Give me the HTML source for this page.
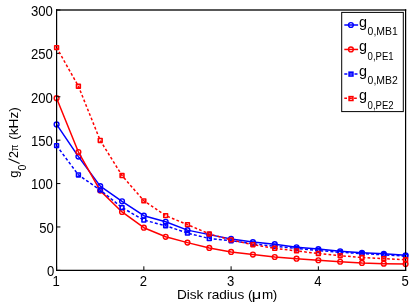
<!DOCTYPE html>
<html><head><meta charset="utf-8"><title>chart</title>
<style>
html,body{margin:0;padding:0;background:#fff;}
svg{display:block;will-change:transform;font-family:"Liberation Sans",sans-serif;}
text{fill:#000;}
</style></head><body>
<svg width="415" height="308" viewBox="0 0 415 308">
<rect x="0" y="0" width="415" height="308" fill="#fff"/>
<g stroke-linejoin="round">
<polyline points="56.60,124.44 78.41,156.58 100.22,186.12 122.04,201.28 143.85,215.66 165.66,221.81 187.47,230.13 209.29,234.63 231.10,238.96 252.91,242.08 274.73,244.16 296.54,247.28 318.35,249.10 340.16,251.26 361.98,252.74 383.79,253.86 405.60,255.34" fill="none" stroke="#0000ff" stroke-width="1.5"/>
<circle cx="56.60" cy="124.44" r="2.4" fill="none" stroke="#0000ff" stroke-width="1.4"/>
<circle cx="78.41" cy="156.58" r="2.4" fill="none" stroke="#0000ff" stroke-width="1.4"/>
<circle cx="100.22" cy="186.12" r="2.4" fill="none" stroke="#0000ff" stroke-width="1.4"/>
<circle cx="122.04" cy="201.28" r="2.4" fill="none" stroke="#0000ff" stroke-width="1.4"/>
<circle cx="143.85" cy="215.66" r="2.4" fill="none" stroke="#0000ff" stroke-width="1.4"/>
<circle cx="165.66" cy="221.81" r="2.4" fill="none" stroke="#0000ff" stroke-width="1.4"/>
<circle cx="187.47" cy="230.13" r="2.4" fill="none" stroke="#0000ff" stroke-width="1.4"/>
<circle cx="209.29" cy="234.63" r="2.4" fill="none" stroke="#0000ff" stroke-width="1.4"/>
<circle cx="231.10" cy="238.96" r="2.4" fill="none" stroke="#0000ff" stroke-width="1.4"/>
<circle cx="252.91" cy="242.08" r="2.4" fill="none" stroke="#0000ff" stroke-width="1.4"/>
<circle cx="274.73" cy="244.16" r="2.4" fill="none" stroke="#0000ff" stroke-width="1.4"/>
<circle cx="296.54" cy="247.28" r="2.4" fill="none" stroke="#0000ff" stroke-width="1.4"/>
<circle cx="318.35" cy="249.10" r="2.4" fill="none" stroke="#0000ff" stroke-width="1.4"/>
<circle cx="340.16" cy="251.26" r="2.4" fill="none" stroke="#0000ff" stroke-width="1.4"/>
<circle cx="361.98" cy="252.74" r="2.4" fill="none" stroke="#0000ff" stroke-width="1.4"/>
<circle cx="383.79" cy="253.86" r="2.4" fill="none" stroke="#0000ff" stroke-width="1.4"/>
<circle cx="405.60" cy="255.34" r="2.4" fill="none" stroke="#0000ff" stroke-width="1.4"/>
<polyline points="56.60,98.19 78.41,152.07 100.22,190.62 122.04,211.93 143.85,227.70 165.66,236.80 187.47,242.60 209.29,247.97 231.10,251.96 252.91,254.56 274.73,256.98 296.54,258.71 318.35,260.27 340.16,261.75 361.98,262.96 383.79,263.65 405.60,264.09" fill="none" stroke="#ff0000" stroke-width="1.5"/>
<circle cx="56.60" cy="98.19" r="2.4" fill="none" stroke="#ff0000" stroke-width="1.4"/>
<circle cx="78.41" cy="152.07" r="2.4" fill="none" stroke="#ff0000" stroke-width="1.4"/>
<circle cx="100.22" cy="190.62" r="2.4" fill="none" stroke="#ff0000" stroke-width="1.4"/>
<circle cx="122.04" cy="211.93" r="2.4" fill="none" stroke="#ff0000" stroke-width="1.4"/>
<circle cx="143.85" cy="227.70" r="2.4" fill="none" stroke="#ff0000" stroke-width="1.4"/>
<circle cx="165.66" cy="236.80" r="2.4" fill="none" stroke="#ff0000" stroke-width="1.4"/>
<circle cx="187.47" cy="242.60" r="2.4" fill="none" stroke="#ff0000" stroke-width="1.4"/>
<circle cx="209.29" cy="247.97" r="2.4" fill="none" stroke="#ff0000" stroke-width="1.4"/>
<circle cx="231.10" cy="251.96" r="2.4" fill="none" stroke="#ff0000" stroke-width="1.4"/>
<circle cx="252.91" cy="254.56" r="2.4" fill="none" stroke="#ff0000" stroke-width="1.4"/>
<circle cx="274.73" cy="256.98" r="2.4" fill="none" stroke="#ff0000" stroke-width="1.4"/>
<circle cx="296.54" cy="258.71" r="2.4" fill="none" stroke="#ff0000" stroke-width="1.4"/>
<circle cx="318.35" cy="260.27" r="2.4" fill="none" stroke="#ff0000" stroke-width="1.4"/>
<circle cx="340.16" cy="261.75" r="2.4" fill="none" stroke="#ff0000" stroke-width="1.4"/>
<circle cx="361.98" cy="262.96" r="2.4" fill="none" stroke="#ff0000" stroke-width="1.4"/>
<circle cx="383.79" cy="263.65" r="2.4" fill="none" stroke="#ff0000" stroke-width="1.4"/>
<circle cx="405.60" cy="264.09" r="2.4" fill="none" stroke="#ff0000" stroke-width="1.4"/>
</g>
<g stroke="#000" fill="none">
<rect x="56" y="9" width="350.2" height="2" fill="#585858" stroke="none"/>
<line x1="56" y1="270.37" x2="406.2" y2="270.37" stroke-width="1.25"/>
<line x1="56.6" y1="9.33" x2="56.6" y2="271" stroke-width="1.2"/>
<line x1="405.6" y1="9.33" x2="405.6" y2="271" stroke-width="1.2"/>
<line x1="56.60" y1="270" x2="56.60" y2="266.3" stroke-width="1"/>
<line x1="143.85" y1="270" x2="143.85" y2="266.3" stroke-width="1"/>
<line x1="231.10" y1="270" x2="231.10" y2="266.3" stroke-width="1"/>
<line x1="318.35" y1="270" x2="318.35" y2="266.3" stroke-width="1"/>
<line x1="405.60" y1="270" x2="405.60" y2="266.3" stroke-width="1"/>
<line x1="56.6" y1="270.35" x2="60.4" y2="270.35" stroke-width="1"/>
<line x1="56.6" y1="226.96" x2="60.4" y2="226.96" stroke-width="1"/>
<line x1="56.6" y1="183.57" x2="60.4" y2="183.57" stroke-width="1"/>
<line x1="56.6" y1="140.18" x2="60.4" y2="140.18" stroke-width="1"/>
<line x1="56.6" y1="96.78" x2="60.4" y2="96.78" stroke-width="1"/>
<line x1="56.6" y1="53.39" x2="60.4" y2="53.39" stroke-width="1"/>
<line x1="56.6" y1="10.00" x2="60.4" y2="10.00" stroke-width="1"/>
</g>
<g stroke-linejoin="round">
<polyline points="56.60,145.66 78.41,174.94 100.22,190.02 122.04,207.60 143.85,220.08 165.66,225.71 187.47,233.07 209.29,238.53 231.10,240.70 252.91,243.90 274.73,246.24 296.54,248.49 318.35,250.48 340.16,252.30 361.98,253.60 383.79,254.82 405.60,256.12" fill="none" stroke="#0000ff" stroke-width="1.5" stroke-dasharray="3.0 2.1"/>
<rect x="54.70" y="143.76" width="3.8" height="3.8" fill="none" stroke="#0000ff" stroke-width="1.6"/>
<rect x="76.51" y="173.04" width="3.8" height="3.8" fill="none" stroke="#0000ff" stroke-width="1.6"/>
<rect x="98.32" y="188.12" width="3.8" height="3.8" fill="none" stroke="#0000ff" stroke-width="1.6"/>
<rect x="120.14" y="205.70" width="3.8" height="3.8" fill="none" stroke="#0000ff" stroke-width="1.6"/>
<rect x="141.95" y="218.18" width="3.8" height="3.8" fill="none" stroke="#0000ff" stroke-width="1.6"/>
<rect x="163.76" y="223.81" width="3.8" height="3.8" fill="none" stroke="#0000ff" stroke-width="1.6"/>
<rect x="185.57" y="231.17" width="3.8" height="3.8" fill="none" stroke="#0000ff" stroke-width="1.6"/>
<rect x="207.39" y="236.63" width="3.8" height="3.8" fill="none" stroke="#0000ff" stroke-width="1.6"/>
<rect x="229.20" y="238.80" width="3.8" height="3.8" fill="none" stroke="#0000ff" stroke-width="1.6"/>
<rect x="251.01" y="242.00" width="3.8" height="3.8" fill="none" stroke="#0000ff" stroke-width="1.6"/>
<rect x="272.83" y="244.34" width="3.8" height="3.8" fill="none" stroke="#0000ff" stroke-width="1.6"/>
<rect x="294.64" y="246.59" width="3.8" height="3.8" fill="none" stroke="#0000ff" stroke-width="1.6"/>
<rect x="316.45" y="248.58" width="3.8" height="3.8" fill="none" stroke="#0000ff" stroke-width="1.6"/>
<rect x="338.26" y="250.40" width="3.8" height="3.8" fill="none" stroke="#0000ff" stroke-width="1.6"/>
<rect x="360.08" y="251.70" width="3.8" height="3.8" fill="none" stroke="#0000ff" stroke-width="1.6"/>
<rect x="381.89" y="252.92" width="3.8" height="3.8" fill="none" stroke="#0000ff" stroke-width="1.6"/>
<rect x="403.70" y="254.22" width="3.8" height="3.8" fill="none" stroke="#0000ff" stroke-width="1.6"/>
<polyline points="56.60,47.60 78.41,86.23 100.22,140.46 122.04,175.55 143.85,200.85 165.66,215.66 187.47,224.58 209.29,233.94 231.10,239.92 252.91,244.68 274.73,248.32 296.54,250.92 318.35,253.52 340.16,255.68 361.98,257.50 383.79,258.71 405.60,259.75" fill="none" stroke="#ff0000" stroke-width="1.5" stroke-dasharray="2.7 2.2"/>
<rect x="54.70" y="45.70" width="3.8" height="3.8" fill="none" stroke="#ff0000" stroke-width="1.6"/>
<rect x="76.51" y="84.33" width="3.8" height="3.8" fill="none" stroke="#ff0000" stroke-width="1.6"/>
<rect x="98.32" y="138.56" width="3.8" height="3.8" fill="none" stroke="#ff0000" stroke-width="1.6"/>
<rect x="120.14" y="173.65" width="3.8" height="3.8" fill="none" stroke="#ff0000" stroke-width="1.6"/>
<rect x="141.95" y="198.95" width="3.8" height="3.8" fill="none" stroke="#ff0000" stroke-width="1.6"/>
<rect x="163.76" y="213.76" width="3.8" height="3.8" fill="none" stroke="#ff0000" stroke-width="1.6"/>
<rect x="185.57" y="222.68" width="3.8" height="3.8" fill="none" stroke="#ff0000" stroke-width="1.6"/>
<rect x="207.39" y="232.04" width="3.8" height="3.8" fill="none" stroke="#ff0000" stroke-width="1.6"/>
<rect x="229.20" y="238.02" width="3.8" height="3.8" fill="none" stroke="#ff0000" stroke-width="1.6"/>
<rect x="251.01" y="242.78" width="3.8" height="3.8" fill="none" stroke="#ff0000" stroke-width="1.6"/>
<rect x="272.83" y="246.42" width="3.8" height="3.8" fill="none" stroke="#ff0000" stroke-width="1.6"/>
<rect x="294.64" y="249.02" width="3.8" height="3.8" fill="none" stroke="#ff0000" stroke-width="1.6"/>
<rect x="316.45" y="251.62" width="3.8" height="3.8" fill="none" stroke="#ff0000" stroke-width="1.6"/>
<rect x="338.26" y="253.78" width="3.8" height="3.8" fill="none" stroke="#ff0000" stroke-width="1.6"/>
<rect x="360.08" y="255.60" width="3.8" height="3.8" fill="none" stroke="#ff0000" stroke-width="1.6"/>
<rect x="381.89" y="256.81" width="3.8" height="3.8" fill="none" stroke="#ff0000" stroke-width="1.6"/>
<rect x="403.70" y="257.85" width="3.8" height="3.8" fill="none" stroke="#ff0000" stroke-width="1.6"/>
</g>
<text x="54.40" y="276.15" font-size="13.8" text-anchor="end" textLength="7.30" lengthAdjust="spacingAndGlyphs">0</text>
<text x="53.90" y="232.76" font-size="13.8" text-anchor="end" textLength="14.60" lengthAdjust="spacingAndGlyphs">50</text>
<text x="52.90" y="189.37" font-size="13.8" text-anchor="end" textLength="21.90" lengthAdjust="spacingAndGlyphs">100</text>
<text x="52.90" y="145.98" font-size="13.8" text-anchor="end" textLength="21.90" lengthAdjust="spacingAndGlyphs">150</text>
<text x="52.90" y="102.58" font-size="13.8" text-anchor="end" textLength="21.90" lengthAdjust="spacingAndGlyphs">200</text>
<text x="52.90" y="59.19" font-size="13.8" text-anchor="end" textLength="21.90" lengthAdjust="spacingAndGlyphs">250</text>
<text x="52.90" y="15.80" font-size="13.8" text-anchor="end" textLength="21.90" lengthAdjust="spacingAndGlyphs">300</text>
<text x="56.20" y="286.0" font-size="13.8" text-anchor="middle" textLength="7.3" lengthAdjust="spacingAndGlyphs">1</text>
<text x="143.45" y="286.0" font-size="13.8" text-anchor="middle" textLength="7.3" lengthAdjust="spacingAndGlyphs">2</text>
<text x="230.70" y="286.0" font-size="13.8" text-anchor="middle" textLength="7.3" lengthAdjust="spacingAndGlyphs">3</text>
<text x="317.95" y="286.0" font-size="13.8" text-anchor="middle" textLength="7.3" lengthAdjust="spacingAndGlyphs">4</text>
<text x="405.20" y="286.0" font-size="13.8" text-anchor="middle" textLength="7.3" lengthAdjust="spacingAndGlyphs">5</text>
<text x="176.9" y="298.8" font-size="13.4" textLength="75.7" lengthAdjust="spacingAndGlyphs">Disk radius (</text>
<text x="251.7" y="298.8" font-size="13.4" textLength="9.5" lengthAdjust="spacingAndGlyphs">μ</text>
<text x="261.9" y="298.8" font-size="13.4" textLength="11.2" lengthAdjust="spacingAndGlyphs">m</text>
<text x="272.7" y="298.8" font-size="13.4">)</text>
<g transform="translate(18.0,177.4) rotate(-90)"><text x="-0.4" y="0" font-size="13">g</text><text x="7.0" y="7.6" font-size="10.6" textLength="5.9" lengthAdjust="spacingAndGlyphs">0</text><line x1="13.95" y1="1.6" x2="18.65" y2="-9.5" stroke="#000" stroke-width="1.05"/><text x="19.3" y="0" font-size="12.4" textLength="6.9" lengthAdjust="spacingAndGlyphs">2</text><text x="26.3" y="0" font-size="11.4" textLength="6.5" lengthAdjust="spacingAndGlyphs">π</text><text x="37.7" y="0" font-size="13" textLength="32.4" lengthAdjust="spacingAndGlyphs">(kHz)</text></g>
<rect x="341.7" y="12.4" width="61.6" height="99.2" fill="#fff" stroke="#000" stroke-width="1"/>
<line x1="344.3" y1="25.00" x2="358.1" y2="25.00" stroke="#0000ff" stroke-width="1.5"/>
<circle cx="350.9" cy="25.00" r="2.4" fill="none" stroke="#0000ff" stroke-width="1.4"/>
<text x="359.0" y="27.00" font-size="14.4">g</text>
<text x="367.6" y="35.20" font-size="11.2" textLength="30.2" lengthAdjust="spacingAndGlyphs">0,MB1</text>
<line x1="344.3" y1="49.45" x2="358.1" y2="49.45" stroke="#ff0000" stroke-width="1.5"/>
<circle cx="350.9" cy="49.45" r="2.4" fill="none" stroke="#ff0000" stroke-width="1.4"/>
<text x="359.0" y="51.45" font-size="14.4">g</text>
<text x="367.6" y="59.65" font-size="11.2" textLength="26.1" lengthAdjust="spacingAndGlyphs">0,PE1</text>
<line x1="344.3" y1="73.90" x2="358.1" y2="73.90" stroke="#0000ff" stroke-width="1.5" stroke-dasharray="3.0 2.1"/>
<rect x="349.10" y="72.20" width="3.8" height="3.8" fill="none" stroke="#0000ff" stroke-width="1.6"/>
<text x="359.0" y="75.90" font-size="14.4">g</text>
<text x="367.6" y="84.10" font-size="11.2" textLength="30.2" lengthAdjust="spacingAndGlyphs">0,MB2</text>
<line x1="344.3" y1="98.35" x2="358.1" y2="98.35" stroke="#ff0000" stroke-width="1.5" stroke-dasharray="2.7 2.2"/>
<rect x="349.10" y="96.65" width="3.8" height="3.8" fill="none" stroke="#ff0000" stroke-width="1.6"/>
<text x="359.0" y="100.35" font-size="14.4">g</text>
<text x="367.6" y="108.55" font-size="11.2" textLength="26.1" lengthAdjust="spacingAndGlyphs">0,PE2</text>
</svg>
</body></html>
